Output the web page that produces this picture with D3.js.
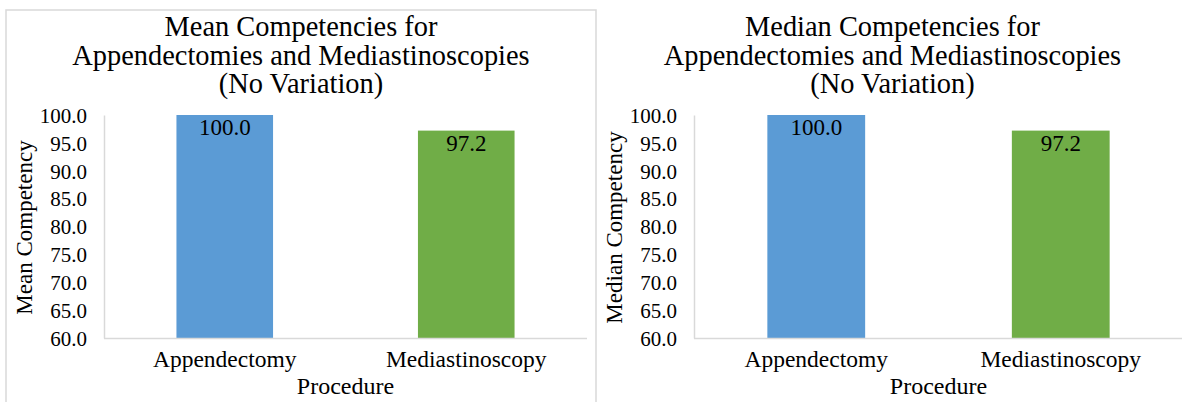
<!DOCTYPE html>
<html>
<head>
<meta charset="utf-8">
<script src="https://cdn.jsdelivr.net/npm/d3@7/dist/d3.min.js"></script>
<style>
  html, body { margin: 0; padding: 0; background: #ffffff; }
  svg { display: block; }
  svg text { font-family: "Liberation Serif", "Times New Roman", Tinos, serif; fill: #000; }
</style>
</head>
<body>
<svg id="chart" width="1182" height="402"></svg>
<script>
// Procedures compared and their competency scores
const procedures = ["Appendectomy", "Mediastinoscopy"];
const meanCompetency = [100.0, 97.2];
const medianCompetency = [100.0, 97.2];
const barColors = ["#5B9BD5", "#70AD47"];
const yTicks = [60, 65, 70, 75, 80, 85, 90, 95, 100];

const panels = [
  {
    title: ["Mean Competencies for", "Appendectomies and Mediastinoscopies", "(No Variation)"],
    yLabel: "Mean Competency",
    values: meanCompetency,
    box: [6, 596],
    framed: true,
    plotX: [104, 587]
  },
  {
    title: ["Median Competencies for", "Appendectomies and Mediastinoscopies", "(No Variation)"],
    yLabel: "Median Competency",
    values: medianCompetency,
    box: [596, 1189],
    framed: false,
    plotX: [694, 1183]
  }
];

const svg = d3.select("#chart");
const plotTop = 115, plotBottom = 338;
const axisColor = "#d9d9d9";
const serif = "'Liberation Serif', 'Times New Roman', Tinos, serif";

panels.forEach(p => {
  const g = svg.append("g");

  // chart area border (first chart only; the second sits flush against it)
  if (p.framed) {
    g.append("rect")
      .attr("x", p.box[0]).attr("y", 10)
      .attr("width", p.box[1] - p.box[0]).attr("height", 420)
      .attr("fill", "none").attr("stroke", axisColor).attr("stroke-width", 1.5);
  }

  const cx = (p.box[0] + p.box[1]) / 2;

  // title
  const title = g.append("text")
    .attr("text-anchor", "middle")
    .style("font-family", serif)
    .style("font-size", "28.4px");
  p.title.forEach((line, i) => {
    title.append("tspan").attr("x", cx).attr("y", 36 + i * 28.5).text(line);
  });

  const x = d3.scaleBand().domain(procedures).range(p.plotX).paddingInner(0.6).paddingOuter(0.3);
  const y = d3.scaleLinear().domain([60, 100]).range([plotBottom, plotTop]);

  // y axis
  const yAxis = g.append("g")
    .attr("transform", `translate(${p.plotX[0]},0)`)
    .call(d3.axisLeft(y).tickValues(yTicks).tickSize(0).tickPadding(17).tickFormat(d3.format(".1f")));
  yAxis.attr("font-family", null);
  yAxis.select(".domain").attr("stroke", axisColor).attr("stroke-width", 1.5);
  yAxis.selectAll("text")
    .style("font-family", serif)
    .style("font-size", "21px")
    .attr("dy", "0.35em");

  // bars
  g.selectAll("rect.bar")
    .data(p.values)
    .join("rect")
    .attr("class", "bar")
    .attr("x", (d, i) => x(procedures[i]))
    .attr("y", d => y(d))
    .attr("width", x.bandwidth())
    .attr("height", d => y(60) - y(d))
    .attr("fill", (d, i) => barColors[i]);

  // value labels inside bar tops
  g.selectAll("text.value")
    .data(p.values)
    .join("text")
    .attr("class", "value")
    .attr("text-anchor", "middle")
    .attr("x", (d, i) => x(procedures[i]) + x.bandwidth() / 2)
    .attr("y", d => y(d) + 20)
    .style("font-family", serif)
    .style("font-size", "23px")
    .text(d => d3.format(".1f")(d));

  // x axis
  const xAxis = g.append("g")
    .attr("transform", `translate(0,${plotBottom})`)
    .call(d3.axisBottom(x).tickSize(0).tickPadding(12));
  xAxis.attr("font-family", null);
  xAxis.select(".domain").attr("stroke", axisColor).attr("stroke-width", 1.5)
    .attr("d", `M${p.plotX[0]},0.5H${p.plotX[1]}`);
  xAxis.selectAll("text")
    .style("font-family", serif)
    .style("font-size", "23.5px")
    .attr("dy", "0.71em");

  // axis titles
  g.append("text")
    .attr("text-anchor", "middle")
    .attr("x", (p.plotX[0] + p.plotX[1]) / 2)
    .attr("y", 394)
    .style("font-family", serif)
    .style("font-size", "24px")
    .text("Procedure");

  g.append("text")
    .attr("text-anchor", "middle")
    .attr("transform", `translate(${p.box[0] + 26},${(plotTop + plotBottom) / 2 + 1}) rotate(-90)`)
    .style("font-family", serif)
    .style("font-size", "23px")
    .text(p.yLabel);
});
</script>
</body>
</html>
